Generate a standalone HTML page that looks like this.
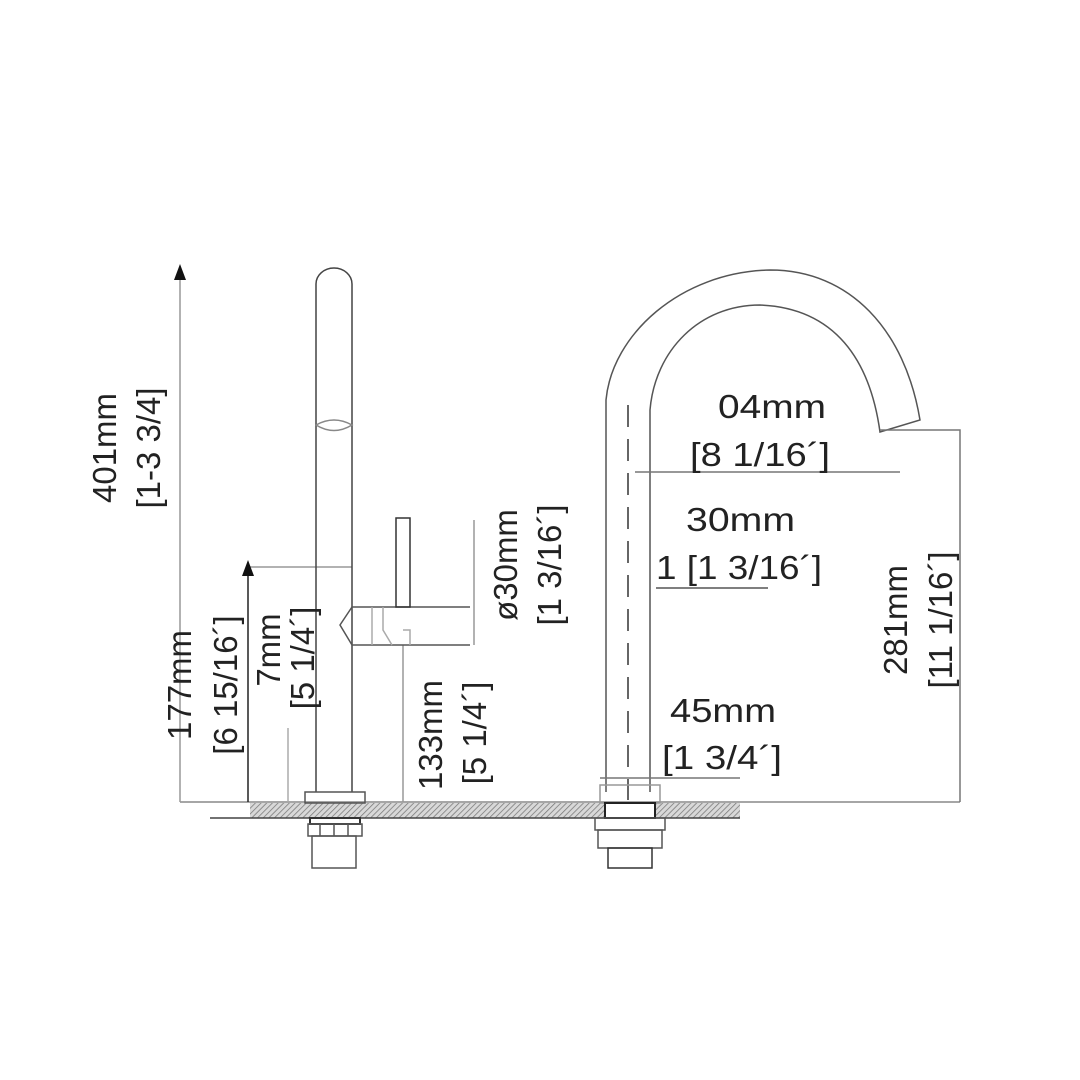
<!DOCTYPE html>
<html><head><style>html,body{margin:0;padding:0;background:#fff}svg{display:block}</style></head>
<body>
<svg width="1080" height="1080" viewBox="0 0 1080 1080" xmlns="http://www.w3.org/2000/svg">
<defs>
<pattern id="h" width="4" height="4" patternUnits="userSpaceOnUse" patternTransform="rotate(45)">
<rect width="4" height="4" fill="#d8d8d8"/><line x1="0" y1="0" x2="0" y2="4" stroke="#777" stroke-width="1.5"/>
</pattern>
</defs>
<g fill="none" stroke="#555" stroke-width="1.5">
<rect x="250" y="803" width="490" height="15" fill="url(#h)" stroke="none"/>
<line x1="210" y1="818" x2="740" y2="818" stroke="#444"/>
<line x1="180" y1="802" x2="960" y2="802" stroke="#888"/>
<line x1="180" y1="280" x2="180" y2="802" stroke="#999"/>
<line x1="248" y1="572" x2="248" y2="802" stroke="#222"/>
<line x1="250" y1="567" x2="352" y2="567" stroke="#999"/>
<line x1="288" y1="728" x2="288" y2="802" stroke="#aaa"/>
<line x1="403" y1="645" x2="403" y2="802" stroke="#999"/>
<line x1="474" y1="520" x2="474" y2="645" stroke="#999"/>
<path d="M316 792 V284 A18 16 0 0 1 352 284 V792" stroke="#444"/>
<path d="M316 425 Q334 415 352 425 Q334 436 316 425" stroke="#888"/>
<line x1="352" y1="607" x2="470" y2="607"/>
<line x1="352" y1="645" x2="470" y2="645"/>
<path d="M352 607 L340 625 L352 645" />
<line x1="372" y1="607" x2="372" y2="645" stroke="#aaa"/>
<path d="M383 607 V630 L392 645" stroke="#aaa"/>
<path d="M403 630 H410 V645" stroke="#aaa"/>
<rect x="396" y="518" width="14" height="89" stroke="#333"/>
<rect x="305" y="792" width="60" height="11"/>
<rect x="310" y="818" width="50" height="6" stroke="#333" stroke-width="2"/>
<rect x="308" y="824" width="54" height="12"/>
<line x1="320" y1="824" x2="320" y2="836"/><line x1="334" y1="824" x2="334" y2="836"/><line x1="348" y1="824" x2="348" y2="836"/>
<rect x="312" y="836" width="44" height="32"/>
<path d="M606 792 V400 C612 335 680 272 770 270 C850 270 905 330 920 420 L880 432 C870 360 835 308 760 305 C700 305 655 350 650 410 V792" stroke="#555"/>
<line x1="628" y1="405" x2="628" y2="800" stroke="#333" stroke-dasharray="22,12"/>
<path d="M880 430 H960 V802" stroke="#777"/>
<line x1="635" y1="472" x2="900" y2="472" stroke="#777"/>
<line x1="656" y1="588" x2="768" y2="588" stroke="#555"/>
<line x1="600" y1="778" x2="740" y2="778" stroke="#777"/>
<rect x="600" y="785" width="60" height="18" stroke="#999"/>
<rect x="605" y="803" width="50" height="15" fill="#fff" stroke="#222" stroke-width="2"/>
<rect x="595" y="818" width="70" height="12"/>
<rect x="598" y="830" width="64" height="18"/>
<rect x="608" y="848" width="44" height="20" stroke="#333"/>
</g>
<polygon points="180,264 174,280 186,280" fill="#111"/>
<polygon points="248,560 242,576 254,576" fill="#111"/>
<g font-family="Liberation Sans, sans-serif" font-size="33" fill="#222">
<text x="718" y="418" textLength="108" lengthAdjust="spacingAndGlyphs">04mm</text>
<text x="690" y="466" textLength="140" lengthAdjust="spacingAndGlyphs">[8 1/16´]</text>
<text x="686" y="531" textLength="109" lengthAdjust="spacingAndGlyphs">30mm</text>
<text x="656" y="579" textLength="166" lengthAdjust="spacingAndGlyphs">1 [1 3/16´]</text>
<text x="670" y="722" textLength="106" lengthAdjust="spacingAndGlyphs">45mm</text>
<text x="662" y="769" textLength="120" lengthAdjust="spacingAndGlyphs">[1 3/4´]</text>
<g text-anchor="middle">
<text transform="translate(116,448) rotate(-90)">401mm</text>
<text transform="translate(160,448) rotate(-90)">[1-3 3/4]</text>
<text transform="translate(191,685) rotate(-90)">177mm</text>
<text transform="translate(237,685) rotate(-90)">[6 15/16´]</text>
<text transform="translate(280,650) rotate(-90)">7mm</text>
<text transform="translate(314,658) rotate(-90)">[5 1/4´]</text>
<text transform="translate(442,735) rotate(-90)">133mm</text>
<text transform="translate(486,733) rotate(-90)">[5 1/4´]</text>
<text transform="translate(517,565) rotate(-90)">ø30mm</text>
<text transform="translate(561,565) rotate(-90)">[1 3/16´]</text>
<text transform="translate(907,620) rotate(-90)">281mm</text>
<text transform="translate(952,620) rotate(-90)">[11 1/16´]</text>
</g>
</g>
</svg>
</body></html>
